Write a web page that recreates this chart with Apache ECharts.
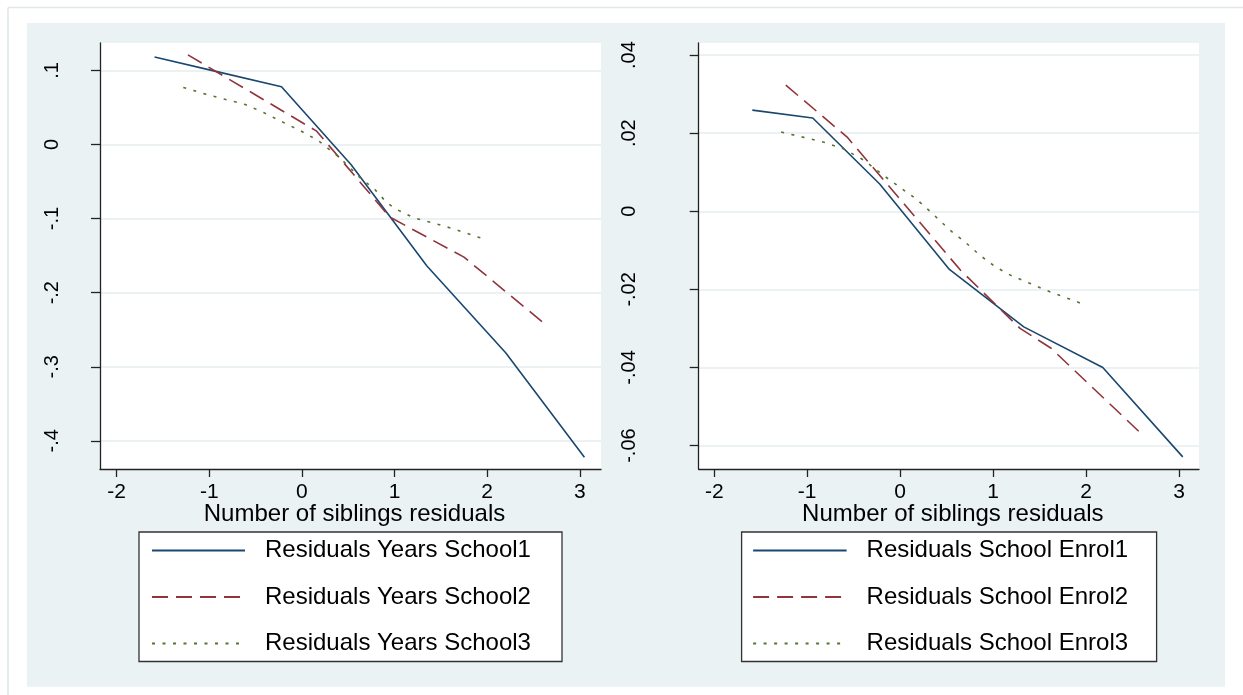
<!DOCTYPE html>
<html><head><meta charset="utf-8">
<script src="https://cdn.jsdelivr.net/npm/echarts@6/dist/echarts.min.js"></script>
<style>html,body{margin:0;padding:0;background:#fff}#c{width:1243px;height:695px}</style>
</head><body><div id="c"></div>
<script>
// ---- tick values / labels ----
const xTicks = [-2, -1, 0, 1, 2, 3];
const xTickLabels = ['-2', '-1', '0', '1', '2', '3'];
const leftYTicks = [-0.4, -0.3, -0.2, -0.1, 0, 0.1];
const leftYTickLabels = ['-.4', '-.3', '-.2', '-.1', '0', '.1'];
const rightYTicks = [-0.06, -0.04, -0.02, 0, 0.02, 0.04];
const rightYTickLabels = ['-.06', '-.04', '-.02', '0', '.02', '.04'];
const xTitle = 'Number of siblings residuals';
const leftNames = ['Residuals Years School1', 'Residuals Years School2', 'Residuals Years School3'];
const rightNames = ['Residuals School Enrol1', 'Residuals School Enrol2', 'Residuals School Enrol3'];

// ---- left panel data ----
const yrs1X = [-1.59, -0.94, -0.22, 0.53, 1.35, 2.20, 3.05];
const yrs1Y = [0.118, 0.099, 0.078, -0.027, -0.164, -0.281, -0.422];
const yrs2X = [-1.23, 0.16, 0.95, 1.75, 2.61];
const yrs2Y = [0.121, 0.018, -0.098, -0.152, -0.241];
const yrs3X = [-1.28, -1.04, -0.83, -0.61, -0.41, -0.22, -0.02, 0.18, 0.41, 0.63, 0.79, 0.92, 1.03, 1.21, 1.42, 1.64, 1.95];
const yrs3Y = [0.077, 0.068, 0.061, 0.054, 0.043, 0.031, 0.019, 0.005, -0.018, -0.045, -0.061, -0.079, -0.088, -0.099, -0.106, -0.114, -0.127];

// ---- right panel data ----
const enr1X = [-1.59, -0.94, -0.22, 0.53, 1.33, 2.18, 3.04];
const enr1Y = [0.0259, 0.0239, 0.0070, -0.0149, -0.0296, -0.0400, -0.0629];
const enr2X = [-1.23, -0.57, 0.65, 1.29, 1.62, 2.60];
const enr2Y = [0.0323, 0.0190, -0.0151, -0.0300, -0.0350, -0.0571];
const enr3X = [-1.28, -1.05, -0.82, -0.61, -0.39, -0.18, 0.00, 0.17, 0.33, 0.54, 0.70, 0.86, 1.03, 1.19, 1.40, 1.62, 1.95];
const enr3Y = [0.0203, 0.0190, 0.0177, 0.0160, 0.0131, 0.0092, 0.0061, 0.0032, -0.0002, -0.0049, -0.0079, -0.0113, -0.0143, -0.0164, -0.0185, -0.0207, -0.0236];

// ---- axis extents ----
const leftXRange = [-2.179, 3.229];
const leftYRange = [-0.438, 0.137];
const rightXRange = [-2.167, 3.215];
const rightYRange = [-0.066, 0.0431];

const FONT = 'Liberation Sans, Arial, sans-serif';
const NAVY = '#1a476f', MAROON = '#90353b', GREEN = '#55752f';
const AXIS_COLOR = '#222';
const GRID_COLOR = '#e6eef1';

function zip(xs, ys) { return xs.map((x, i) => [x, ys[i]]); }
function labelFor(ticks, labels) {
  return v => {
    let best = 0;
    for (let i = 1; i < ticks.length; i++) if (Math.abs(ticks[i] - v) < Math.abs(ticks[best] - v)) best = i;
    return labels[best];
  };
}

function xAxisCfg(gi, range) {
  return {
    gridIndex: gi, type: 'value', min: range[0], max: range[1],
    axisLine: { show: true, onZero: false, lineStyle: { color: AXIS_COLOR, width: 1.3 } },
    axisTick: { show: true, length: 8, customValues: xTicks, lineStyle: { color: AXIS_COLOR, width: 1.3 } },
    axisLabel: { customValues: xTicks, margin: 13, fontSize: 21, fontFamily: FONT, color: '#000',
      formatter: labelFor(xTicks, xTickLabels) },
    splitLine: { show: false },
    name: xTitle, nameLocation: 'middle', nameGap: 33, nameMoveOverlap: false,
    nameTextStyle: { fontSize: 24, fontFamily: FONT, color: '#000', padding: [0, 0, 0, 8] }
  };
}
function yAxisCfg(gi, range, ticks, labels, margin) {
  return {
    gridIndex: gi, type: 'value', min: range[0], max: range[1],
    axisLine: { show: true, onZero: false, lineStyle: { color: AXIS_COLOR, width: 1.3 } },
    axisTick: { show: true, length: 9, customValues: ticks, lineStyle: { color: AXIS_COLOR, width: 1.3 } },
    axisLabel: { customValues: ticks, rotate: 90, margin: margin, fontSize: 20, fontFamily: FONT, color: '#000',
      formatter: labelFor(ticks, labels) },
    splitLine: { show: true, customValues: ticks, lineStyle: { color: GRID_COLOR, width: 1.5 } }
  };
}
function lineSeries(name, xs, ys, gi, color, type) {
  return {
    name: name, type: 'line', xAxisIndex: gi, yAxisIndex: gi,
    data: zip(xs, ys), symbol: 'none', showSymbol: false, color: color,
    lineStyle: { color: color, width: 1.6, type: type }, itemStyle: { color: color },
    emphasis: { disabled: true }
  };
}
function legendCfg(names, left, padLeft, itemWidth, textWidth) {
  return {
    data: names, orient: 'vertical', left: left, top: 532,
    padding: [6.5, 10, 6, padLeft], itemWidth: itemWidth, itemHeight: 20, itemGap: 22.5,
    backgroundColor: '#fff', borderColor: '#333', borderWidth: 1.3, borderRadius: 0,
    selectedMode: false,
    itemStyle: { opacity: 0, color: 'rgba(0,0,0,0)', borderWidth: 0 },
    textStyle: { fontSize: 24, fontFamily: FONT, color: '#000', width: textWidth, lineHeight: 20, padding: [0, 0, 0, 15] }
  };
}

const option = {
  animation: false,
  backgroundColor: '#fff',
  graphic: [
    { type: 'rect', z: -10, shape: { x: 27, y: 23, width: 1198, height: 663.7 }, style: { fill: '#eaf2f3' }, silent: true },
    { type: 'line', z: -10, shape: { x1: 8, y1: 7.5, x2: 1243, y2: 7.5 }, style: { stroke: '#dfe7ea', lineWidth: 1.5 }, silent: true },
    { type: 'line', z: -10, shape: { x1: 8, y1: 7.5, x2: 8, y2: 695 }, style: { stroke: '#dfe7ea', lineWidth: 1.5 }, silent: true }
  ],
  grid: [
    { left: 100, top: 43, width: 501, height: 426, show: true, backgroundColor: '#fff', borderWidth: 0, containLabel: false, outerBoundsMode: 'none' },
    { left: 698.7, top: 43, width: 500.3, height: 426, show: true, backgroundColor: '#fff', borderWidth: 0, containLabel: false, outerBoundsMode: 'none' }
  ],
  xAxis: [xAxisCfg(0, leftXRange), xAxisCfg(1, rightXRange)],
  yAxis: [yAxisCfg(0, leftYRange, leftYTicks, leftYTickLabels, 38), yAxisCfg(1, rightYRange, rightYTicks, rightYTickLabels, 59)],
  legend: [
    legendCfg(leftNames, 139, 12, 93, 287),
    legendCfg(rightNames, 741.6, 10.5, 93.5, 280)
  ],
  series: [
    lineSeries(leftNames[0], yrs1X, yrs1Y, 0, NAVY, 'solid'),
    lineSeries(leftNames[1], yrs2X, yrs2Y, 0, MAROON, [16, 8]),
    lineSeries(leftNames[2], yrs3X, yrs3Y, 0, GREEN, [3, 7.5]),
    lineSeries(rightNames[0], enr1X, enr1Y, 1, NAVY, 'solid'),
    lineSeries(rightNames[1], enr2X, enr2Y, 1, MAROON, [16, 8]),
    lineSeries(rightNames[2], enr3X, enr3Y, 1, GREEN, [3, 7.5])
  ]
};
const chart = echarts.init(document.getElementById('c'), null, { renderer: 'canvas' });
chart.setOption(option);
</script>
</body></html>
